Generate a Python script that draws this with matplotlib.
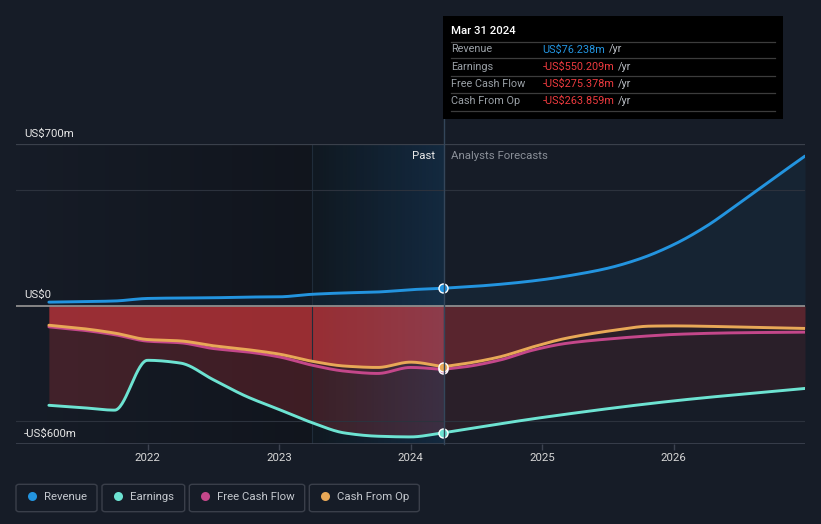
import numpy as np
import matplotlib.pyplot as plt
from matplotlib.patches import Rectangle, FancyBboxPatch
from matplotlib.lines import Line2D

# =========================================
# Data (US$ m)
# =========================================
past_t = [2021.25, 2021.5, 2021.75, 2022.0, 2022.25, 2022.5, 2022.75,
          2023.0, 2023.25, 2023.5, 2023.75, 2024.0, 2024.25]
revenue_past = [16, 18, 21, 32, 34, 35, 38, 39, 50, 56, 60, 70, 76.238]
earnings_past = [-431, -441, -452, -236, -248, -320, -392, -449, -506, -551, -565, -568, -550.209]
fcf_past = [-91, -105, -125, -153, -160, -185, -199, -221, -257, -283, -293, -267, -275.378]
cfo_past = [-84, -98, -118, -146, -152, -173, -189, -209, -240, -261, -267, -244, -263.859]

rev_fc_t = [2024.25, 2024.5, 2024.75, 2025.0, 2025.25, 2025.5, 2025.75,
            2026.0, 2026.25, 2026.5, 2026.75, 2027.0]
revenue_fc = [76.238, 85, 97, 113, 135, 163, 205, 265, 345, 445, 548, 649]
earn_fc_t = [2024.25, 2025.0, 2026.0, 2027.0]
earnings_fc = [-550.209, -484, -412, -358]
cash_fc_t = [2024.25, 2024.42, 2024.68, 2024.93, 2025.18, 2025.56, 2025.82, 2026.0, 2026.45, 2027.0]
fcf_fc = [-275.378, -264, -235, -192, -163, -141, -130, -124, -117, -114]
cfo_fc = [-263.859, -250, -221, -178, -141, -105, -88, -87, -91, -98]

year_ticks = [2022, 2023, 2024, 2025, 2026]
now_t = 2024.25
band_start = 2023.25

series_names = ["Revenue", "Earnings", "Free Cash Flow", "Cash From Op"]
series_colors = ["#2394df", "#6de3d2", "#c4478a", "#e8a857"]
tooltip_values = ["US$76.238m", "-US$550.209m", "-US$275.378m", "-US$263.859m"]

BG = "#161c27"
RED = "#e03a3e"


def pchip(x, y, xs):
    # monotone cubic smoothing between the read points
    x = np.asarray(x, float)
    y = np.asarray(y, float)
    h = np.diff(x)
    d = np.diff(y) / h
    m = np.zeros_like(y)
    m[0], m[-1] = d[0], d[-1]
    for k in range(1, len(x) - 1):
        if d[k - 1] * d[k] > 0:
            w1 = 2 * h[k] + h[k - 1]
            w2 = h[k] + 2 * h[k - 1]
            m[k] = (w1 + w2) / (w1 / d[k - 1] + w2 / d[k])
    i = np.clip(np.searchsorted(x, xs) - 1, 0, len(h) - 1)
    s = (xs - x[i]) / h[i]
    h00 = 2 * s**3 - 3 * s**2 + 1
    h10 = s**3 - 2 * s**2 + s
    h01 = -2 * s**3 + 3 * s**2
    h11 = s**3 - s**2
    return h00 * y[i] + h10 * h[i] * m[i] + h01 * y[i + 1] + h11 * h[i] * m[i + 1]


tp = np.linspace(past_t[0], now_t, 400)
tf = np.linspace(now_t, 2027.0, 400)
rev_p, rev_f = pchip(past_t, revenue_past, tp), pchip(rev_fc_t, revenue_fc, tf)
earn_p, earn_f = pchip(past_t, earnings_past, tp), pchip(earn_fc_t, earnings_fc, tf)
fcf_p, fcf_f = pchip(past_t, fcf_past, tp), pchip(cash_fc_t, fcf_fc, tf)
cfo_p, cfo_f = pchip(past_t, cfo_past, tp), pchip(cash_fc_t, cfo_fc, tf)

# =========================================
# Figure
# =========================================
plt.rcParams['font.family'] = ['Roboto', 'DejaVu Sans']
W, H = 821, 524
fig = plt.figure(figsize=(W / 100, H / 100), dpi=100, facecolor=BG)


def fx(px):
    return px / W


def fy(py):
    return 1 - py / H


ax = fig.add_axes([fx(16), fy(444.3), fx(805) - fx(16), fy(144.3) - fy(444.3)])
ax.set_facecolor(BG)
ax.set_xlim(2021.0, 2027.0)
ax.set_ylim(-600, 700)
for s in ax.spines.values():
    s.set_visible(False)

# darker "past" region and highlighted last year
grad = np.linspace(0, 1, 256)[None, :]
dark = np.zeros((1, 256, 4))
dark[..., 0:3] = [0.02, 0.02, 0.03]
dark[..., 3] = 0.3 * grad
ax.imshow(dark, extent=[2021.0, band_start, -600, 700], aspect='auto', zorder=0.2)

under = np.zeros((1, 256, 4))
c0 = np.array([17, 26, 34]) / 255
c1 = np.array([6, 23, 40]) / 255
under[0, :, 0:3] = c0 + (c1 - c0) * grad[0][:, None]
under[..., 3] = 1
ax.imshow(under, extent=[band_start, now_t, -600, 700], aspect='auto', zorder=0.3)

# fills
ax.fill_between(tf, 0, rev_f, color=series_colors[0], alpha=0.07, lw=0, zorder=1)
ax.fill_between(tp, 0, rev_p, color=series_colors[0], alpha=0.07, lw=0, zorder=1)
ax.fill_between(tp, 0, earn_p, color=RED, alpha=0.22, lw=0, zorder=1)
ax.fill_between(tp, 0, cfo_p, color=RED, alpha=0.56, lw=0, zorder=1.1)
ax.fill_between(tf, 0, earn_f, color=RED, alpha=0.10, lw=0, zorder=1)
ax.fill_between(tf, 0, cfo_f, color=RED, alpha=0.26, lw=0, zorder=1.1)

over = np.zeros((1, 256, 4))
over[..., 0:3] = [100 / 255, 150 / 255, 200 / 255]
over[..., 3] = 0.15 * grad
ax.imshow(over, extent=[band_start, now_t, -600, 700], aspect='auto', zorder=1.5)
ax.axvline(band_start, color="#1f2c3a", lw=0.8, zorder=1.6)

# grid
for yv in (-500, 500):
    ax.axhline(yv, color="#2c323d", lw=0.8, zorder=1.7)
ax.axhline(700, color="#3a404b", lw=0.9, zorder=1.7)
ax.axhline(-600, color="#3d4350", lw=1.2, zorder=1.7)
ax.axhline(0, color="#8e8e8e", lw=1.3, zorder=1.8)

# lines
lw = 2.1
for i, (p, f) in enumerate([(rev_p, rev_f), (earn_p, earn_f), (fcf_p, fcf_f), (cfo_p, cfo_f)]):
    zo = 3 + (0.5 if i == 3 else 0)
    ax.plot(tp, p, color=series_colors[i], lw=lw, zorder=zo, solid_capstyle='round')
    ax.plot(tf, f, color=series_colors[i], lw=lw, zorder=zo, solid_capstyle='round')

now_vals = [revenue_past[-1], earnings_past[-1], fcf_past[-1], cfo_past[-1]]
for i, v in enumerate(now_vals):
    ax.plot([now_t], [v], 'o', ms=6.5, mfc=series_colors[i], mec='white', mew=1.0, zorder=5 + i)

ax.set_yticks([])
ax.set_xticks(year_ticks)
ax.set_xticklabels([str(y) for y in year_ticks])
ax.tick_params(axis='x', length=4, width=1, color="#3d4350", labelcolor="#d6d6d6",
               labelsize=8.2, pad=2)

# y labels
fig.text(fx(24), fy(137), "US$700m", color="#e6e6e6", fontsize=8.2, va='baseline')
fig.text(fx(24), fy(298), "US$0", color="#e6e6e6", fontsize=8.2, va='baseline')
fig.text(fx(24), fy(437), "-US$600m", color="#e6e6e6", fontsize=8.2, va='baseline')

# past / forecast labels
fig.text(fx(435), fy(156), "Past", color="#e8e8e8", fontsize=8.2, ha='right', va='center')
fig.text(fx(451), fy(156), "Analysts Forecasts", color="#8a8f98", fontsize=8.2, ha='left', va='center')

# divider line up to the tooltip
fig.add_artist(Line2D([fx(443.5), fx(443.5)], [fy(119), fy(444)], color="#34465a", lw=1, zorder=6))

# tooltip
fig.add_artist(Rectangle((fx(443), fy(119)), fx(783) - fx(443), fy(16) - fy(119),
                         transform=fig.transFigure, facecolor="black", edgecolor="none", zorder=7))
fig.text(fx(451), fy(31), "Mar 31 2024", color="white", fontsize=8.2, fontweight='medium',
         va='center', zorder=8)
sep_y = [41.7, 58.3, 75.7, 93.3, 111]
for sy in sep_y:
    fig.add_artist(Line2D([fx(451), fx(775)], [fy(sy), fy(sy)], color="#3c3c3c", lw=0.9, zorder=8))
row_y = [49.5, 66.5, 84, 101]
for i, name in enumerate(series_names):
    fig.text(fx(451), fy(row_y[i]), name, color="#9aa0a6", fontsize=7.8, va='center', zorder=8)
    vc = series_colors[0] if i == 0 else "#ee3b3f"
    t = fig.text(fx(542.5), fy(row_y[i]), tooltip_values[i], color=vc, fontsize=7.8,
                 va='center', zorder=8)
    fig.canvas.draw()
    bb = t.get_window_extent()
    fig.text(bb.x1 / W + fx(4), fy(row_y[i]), "/yr", color="#b8bcc2", fontsize=7.8,
             va='center', zorder=8)

# legend
boxes = [(16, 97), (102, 184.7), (189.3, 304.7), (309.3, 419.3)]
for i, (x0, x1) in enumerate(boxes):
    fig.add_artist(FancyBboxPatch((fx(x0), fy(511.7)), fx(x1) - fx(x0), fy(484.3) - fy(511.7),
                                  boxstyle="round,pad=0,rounding_size=0.004",
                                  transform=fig.transFigure, facecolor=BG,
                                  edgecolor="#3a3f4a", lw=1.0))
    fig.add_artist(Line2D([fx(x0 + 16)], [fy(496)], marker='o', ms=6.5, color=series_colors[i],
                          mec='none', lw=0))
    fig.text(fx(x0 + 28), fy(496.5), series_names[i], color="#c4c8ce", fontsize=8.2, va='center')

fig.savefig("out.png", dpi=100, facecolor=BG)
